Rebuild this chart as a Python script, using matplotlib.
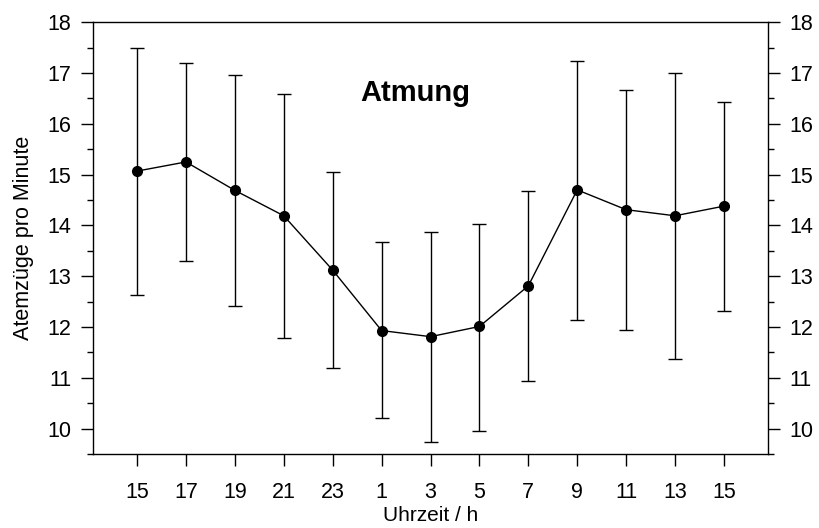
import numpy as np
import matplotlib.pyplot as plt
from matplotlib.ticker import MultipleLocator

plt.rcParams['font.family'] = ['Liberation Sans', 'DejaVu Sans']

# Uhrzeit labels and breathing rate (mean, lower / upper end of error bar)
hours = ['15', '17', '19', '21', '23', '1', '3', '5', '7', '9', '11', '13', '15']
mean = [15.07, 15.25, 14.69, 14.19, 13.12, 11.93, 11.81, 12.01, 12.81, 14.70, 14.31, 14.19, 14.38]
lower = [12.63, 13.30, 12.42, 11.78, 11.19, 10.20, 9.73, 9.96, 10.94, 12.13, 11.95, 11.37, 12.31]
upper = [17.50, 17.20, 16.96, 16.59, 15.05, 13.67, 13.88, 14.03, 14.68, 17.24, 16.67, 17.00, 16.44]

x = np.arange(len(hours))
mean = np.array(mean)
yerr = [mean - np.array(lower), np.array(upper) - mean]

fig = plt.figure(figsize=(8.19, 5.28), dpi=100)
ax = fig.add_axes([0.1136, 0.1402, 0.8241, 0.8176])

ax.errorbar(x, mean, yerr=yerr, fmt='o-', color='black', ecolor='black',
            elinewidth=1, lw=1, capsize=5, capthick=1, markersize=7)

ax.set_xlim(-0.9, 12.9)
ax.set_ylim(9.5, 18)
ax.set_xticks(x)
ax.set_xticklabels(hours)
ax.yaxis.set_major_locator(MultipleLocator(1))
ax.yaxis.set_minor_locator(MultipleLocator(0.5))
ax.set_yticks(np.arange(10, 19, 1))

ax.tick_params(axis='x', which='major', direction='out', length=8.5, width=1,
               labelsize=15.5, pad=12)
ax.tick_params(axis='y', which='major', direction='out', length=8.5, width=1,
               labelsize=15.5, pad=7, right=True, labelright=True)
ax.tick_params(axis='y', which='minor', direction='out', length=4.3, width=1, right=True)

for s in ax.spines.values():
    s.set_linewidth(1)

ax.set_xlabel('Uhrzeit / h', fontsize=15, labelpad=2)
ax.set_ylabel('Atemzüge pro Minute', fontsize=15.5, labelpad=10)
ax.text(0.478, 0.818, 'Atmung', transform=ax.transAxes, ha='center', va='baseline',
        fontsize=21, fontweight='bold')

fig.savefig('out.png', dpi=100)
